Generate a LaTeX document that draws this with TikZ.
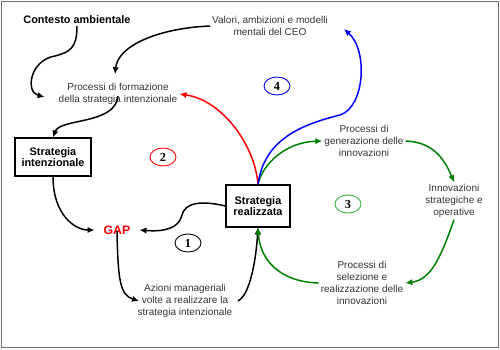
\documentclass[tikz,border=0pt]{standalone}
\usepackage{fontspec}
\setmainfont{Liberation Sans}
\newfontfamily\numfont{Liberation Serif}
\usetikzlibrary{arrows.meta, shapes.geometric, positioning}
\definecolor{gapred}{RGB}{255,0,0}
\definecolor{loopgreen}{RGB}{0,128,0}
\definecolor{ringgreen}{RGB}{60,170,60}
\definecolor{loopblue}{RGB}{0,0,255}
\definecolor{framegray}{RGB}{110,110,110}

\begin{document}
\begin{tikzpicture}[x=0.02cm, y=-0.02cm,
    box/.style={draw=black, line width=0.6pt, minimum width=1.52cm, minimum height=0.76cm,
                align=center, font=\fontsize{6.2}{6.6}\selectfont\bfseries, inner sep=1pt},
    note/.style={font=\fontsize{5.7}{6.8}\selectfont, text=black!80, align=center, inner sep=1pt},
    title/.style={font=\fontsize{6.2}{7}\selectfont\bfseries, inner sep=1pt},
    numcirc/.style={ellipse, draw, line width=0.5pt, minimum width=0.52cm, minimum height=0.36cm,
                inner sep=0pt, font=\fontsize{7}{7}\selectfont\numfont\bfseries},
    arr/.style={-{Latex[length=4pt,width=3.6pt]}, line width=0.85pt}
  ]
    \useasboundingbox (0,0) rectangle (500,349);
    \draw[framegray, line width=0.9pt] (1.5,1.5) rectangle (498.5,347.5);

    \node[title] (contesto) at (77,20) {Contesto ambientale};
    \node[note] (valori) at (270,26) {Valori, ambizioni e modelli\\mentali del CEO};
    \node[note] (formazione) at (118,94) {Processi di formazione\\della strategia intenzionale};
    \node[box] (intenz) at (53,157) {Strategia\\intenzionale};
    \node[box, minimum width=1.28cm, minimum height=0.84cm] (realizz) at (258,206) {Strategia\\realizzata};
    \node[title, text=gapred, font=\fontsize{7}{7}\selectfont\bfseries] (gap) at (117,230) {GAP};
    \node[note] (azioni) at (185,301) {Azioni manageriali\\volte a realizzare la\\strategia intenzionale};
    \node[note] (generaz) at (364,141) {Processi di\\generazione delle\\innovazioni};
    \node[note] (innov) at (454,201) {Innovazioni\\strategiche e\\operative};
    \node[note] (selez) at (362,283) {Processi di\\selezione e\\realizzazione delle\\innovazioni};

    \node[numcirc] (c1) at (188,243) {1};
    \node[numcirc, draw=gapred] (c2) at (163,157) {2};
    \node[numcirc, draw=ringgreen] (c3) at (348,204) {3};
    \node[numcirc, draw=loopblue] (c4) at (277,86) {4};

    % loop 1
    \draw[arr] (contesto.south) .. controls (77,48) and (70,52) .. (55,56)
      .. controls (30,60) and (25,92) .. ([shift={(-12,3)}]formazione.west);
    \draw[arr] (valori.west) .. controls (160,28) and (118,45) .. ([shift={(-3,-7)}]formazione.north);
    \draw[arr] ([yshift=6]formazione.south) .. controls (115,125) and (60,118) .. (intenz.north);
    \draw[arr] (intenz.south) .. controls (53,215) and (75,230) .. ([xshift=-4]gap.west);
    \draw[arr] (realizz.west) .. controls (200,200) and (185,203) .. (182,215)
      .. controls (179,228) and (165,232) .. ([xshift=4]gap.east);
    \draw[arr] ([yshift=3]gap.south) .. controls (118,280) and (120,295) .. ([xshift=2]azioni.west);
    \draw[arr] ([xshift=2]azioni.east) .. controls (250,295) and (256,260) .. (realizz.south);

    % loop 3
    \draw[arr, loopgreen] (selez.west) .. controls (280,282) and (260,260) .. (realizz.south);
    \draw[arr, loopgreen] (realizz.north) .. controls (262,165) and (285,142) .. (generaz.west);
    \draw[arr, loopgreen] (generaz.east) .. controls (430,142) and (443,155) .. (innov.north);
    \draw[arr, loopgreen] (innov.south) .. controls (440,260) and (430,280) .. (selez.east);

    % loops 2 and 4
    \draw[arr, gapred] (realizz.north) .. controls (255,145) and (222,100) .. (formazione.east);
    \draw[arr, loopblue] (realizz.north) .. controls (264,140) and (300,125) .. (340,115)
      .. controls (365,107) and (368,50) .. ([shift={(14,3)}]valori.east);
  \end{tikzpicture}
\end{document}
